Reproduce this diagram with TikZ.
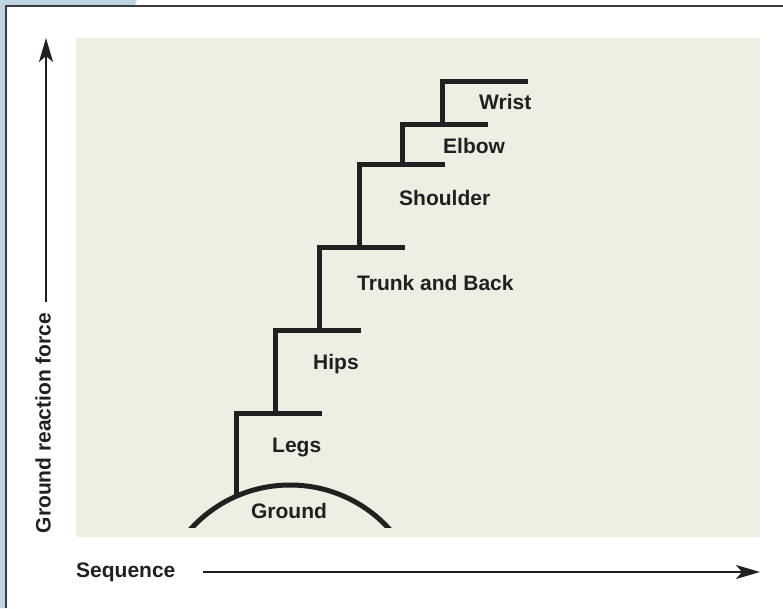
\documentclass[tikz,border=0pt]{standalone}
\usepackage{fontspec}
\setmainfont{Liberation Sans}
\usetikzlibrary{arrows.meta}
\definecolor{panelbg}{RGB}{238,238,227}
\definecolor{tabblue}{RGB}{190,212,225}
\definecolor{frameline}{RGB}{60,60,60}
\definecolor{ink}{RGB}{35,31,32}
\tikzset{
  lbl/.style={font=\fontsize{21}{25}\selectfont\bfseries, text=ink, inner sep=0pt},
  stair/.style={draw=ink, line width=5pt, line cap=butt, line join=miter},
  axisarrow/.style={draw=ink, line width=2pt, -{Stealth[length=24pt,width=14pt,inset=6pt]}},
}
\begin{document}
\begin{tikzpicture}[x=1pt,y=-1pt]
\useasboundingbox (0,0) rectangle (783,608);
% tab and frame
\fill[tabblue] (0,0) -- (137,0) -- (134.5,6) -- (6,6) -- (6,608) -- (0,608) -- cycle;
\draw[frameline, line width=1.8pt] (6,608) -- (6,6) -- (783,6);
% panel
\fill[panelbg] (76,38) rectangle (760,537);
% ground arc
\begin{scope}
  \clip (76,38) rectangle (760,527);
  \draw[stair] (290,619) circle[radius=134pt];
\end{scope}
% stair corners
\coordinate (g0) at (236,496);
\coordinate (s1) at (236,413);
\coordinate (s2) at (275,330);
\coordinate (s3) at (319,247);
\coordinate (s4) at (359,164);
\coordinate (s5) at (402,124);
\coordinate (s6) at (442,81);
\draw[stair] (g0) -- (s1) -- ++(86,0);
\draw[stair] (s1 -| s2) -- (s2) -- ++(86,0);
\draw[stair] (s2 -| s3) -- (s3) -- ++(86,0);
\draw[stair] (s3 -| s4) -- (s4) -- ++(86,0);
\draw[stair] (s4 -| s5) -- (s5) -- ++(86,0);
\draw[stair] (s5 -| s6) -- (s6) -- ++(86,0);
% labels
\node[lbl, anchor=west] (legs) at (272,447) {Legs};
\node[lbl, anchor=west] (hips) at (313,364) {Hips};
\node[lbl, anchor=west] (trunk) at (357,283) {Trunk and Back};
\node[lbl, anchor=west] (shoulder) at (399,198) {Shoulder};
\node[lbl, anchor=west] (elbow) at (443,146) {Elbow};
\node[lbl, anchor=west] (wrist) at (479,102) {Wrist};
\node[lbl] (ground) at (289,511) {Ground};
% axes
\node[lbl, anchor=west] (seq) at (76,572) {Sequence};
\node[lbl, rotate=90] (grf) at (43,423) {Ground reaction force};
\coordinate (xs) at (203,572);
\coordinate (xe) at (760,572);
\coordinate (ys) at (46,302);
\coordinate (ye) at (46,38);
\draw[axisarrow] (xs) -- (xe);
\draw[axisarrow] (ys) -- (ye);
\end{tikzpicture}
\end{document}
